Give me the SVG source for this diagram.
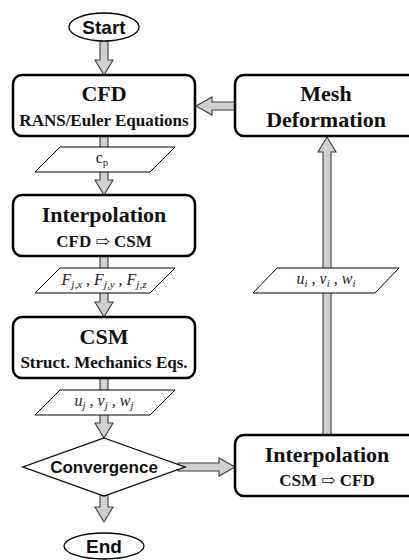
<svg xmlns="http://www.w3.org/2000/svg" width="409" height="560" viewBox="0 0 409 560">
<style>
.bg{fill:#ffffff}
.box{fill:#ffffff;stroke:#000000;stroke-width:2.5}
.term{fill:#ffffff;stroke:#000000;stroke-width:1.3}
.data{fill:#ffffff;stroke:#000000;stroke-width:1}
.arr{fill:#d0d0d0;stroke:#3a3a3a;stroke-width:1.1;stroke-linejoin:miter}
.big{font-family:"Liberation Serif","DejaVu Serif",serif;font-weight:bold;font-size:22px;text-anchor:middle;fill:#111}
.small{font-family:"Liberation Serif","DejaVu Serif",serif;font-weight:bold;font-size:17px;text-anchor:middle;fill:#111}
.sans{font-family:"Liberation Sans",Arial,sans-serif;font-weight:bold;text-anchor:middle;fill:#111}
.it{font-family:"Liberation Serif","DejaVu Serif",serif;font-style:italic;font-size:16px;text-anchor:middle;fill:#222}
.rm{font-family:"Liberation Serif","DejaVu Serif",serif;font-size:16px;text-anchor:middle;fill:#222}
</style>
<rect class="bg" x="0" y="0" width="409" height="560"/>
<g id="connectors">
  <path class="arr" d="M100,41 V60 H95 L104,75 L113,60 H108 V41 Z"/>
  <path class="arr" d="M100,136 V180 H95 L104,195 L113,180 H108 V136 Z"/>
  <path class="arr" d="M100,256 V302 H95 L104,317 L113,302 H108 V256 Z"/>
  <path class="arr" d="M100,378 V423 H95 L104,438 L113,423 H108 V378 Z"/>
  <path class="arr" d="M100,490 V507 H95 L104,522 L113,507 H108 V490 Z"/>
  <path class="arr" d="M178,463 H219 V458 L235,467 L219,476 V471 H178 Z"/>
  <path class="arr" d="M323,435 V152 H318 L327,137 L336,152 H331 V435 Z"/>
  <path class="arr" d="M235,102 H212 V97 L196,106 L212,115 V110 H235 Z"/>
</g>
<g id="start">
  <ellipse class="term" cx="104" cy="27" rx="35" ry="14"/>
  <text class="sans" x="104" y="34" font-size="19">Start</text>
</g>
<g id="cfd">
  <rect class="box" x="13" y="75" width="182" height="61" rx="9"/>
  <text class="big" x="104" y="101">CFD</text>
  <text class="small" x="104" y="126">RANS/Euler Equations</text>
</g>
<g id="cp">
  <polygon class="data" points="60,147 175,147 150,172 35,172"/>
  <text class="rm" x="102" y="163">c<tspan font-size="11" dy="3">p</tspan></text>
</g>
<g id="interp1">
  <rect class="box" x="13" y="195" width="182" height="61" rx="9"/>
  <text class="big" x="104" y="222">Interpolation</text>
  <text class="small" x="104" y="247">CFD ⇨ CSM</text>
</g>
<g id="forces">
  <polygon class="data" points="60,268 175,268 150,293 35,293"/>
  <text class="it" x="104" y="285">F<tspan font-size="11" dy="3">j,x</tspan><tspan dy="-3"> , F</tspan><tspan font-size="11" dy="3">j,y</tspan><tspan dy="-3"> , F</tspan><tspan font-size="11" dy="3">j,z</tspan></text>
</g>
<g id="csm">
  <rect class="box" x="13" y="317" width="182" height="61" rx="9"/>
  <text class="big" x="104" y="344">CSM</text>
  <text class="small" x="104" y="368">Struct. Mechanics Eqs.</text>
</g>
<g id="uj">
  <polygon class="data" points="60,390 175,390 150,415 35,415"/>
  <text class="it" x="104" y="406">u<tspan font-size="11" dy="3">j</tspan><tspan dy="-3"> , v</tspan><tspan font-size="11" dy="3">j</tspan><tspan dy="-3"> , w</tspan><tspan font-size="11" dy="3">j</tspan></text>
</g>
<g id="convergence">
  <polygon class="term" points="104,438 185,467 104,496 23,467"/>
  <text class="sans" x="104" y="473" font-size="17">Convergence</text>
</g>
<g id="end">
  <ellipse class="term" cx="104" cy="546" rx="40" ry="13"/>
  <text class="sans" x="104" y="553" font-size="19">End</text>
</g>
<g id="mesh">
  <rect class="box" x="235" y="75" width="184" height="61" rx="9"/>
  <text class="big" x="326" y="101">Mesh</text>
  <text class="big" x="326" y="127">Deformation</text>
</g>
<g id="ui">
  <polygon class="data" points="277,268 399,268 375,293 253,293"/>
  <text class="it" x="326" y="284">u<tspan font-size="11" dy="3">i</tspan><tspan dy="-3"> , v</tspan><tspan font-size="11" dy="3">i</tspan><tspan dy="-3"> , w</tspan><tspan font-size="11" dy="3">i</tspan></text>
</g>
<g id="interp2">
  <rect class="box" x="235" y="435" width="184" height="61" rx="9"/>
  <text class="big" x="327" y="462">Interpolation</text>
  <text class="small" x="327" y="486">CSM ⇨ CFD</text>
</g>
</svg>
